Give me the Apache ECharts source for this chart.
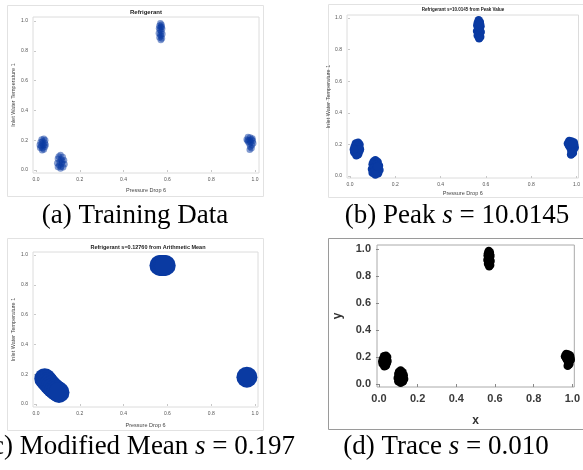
<!DOCTYPE html>
<html><head><meta charset="utf-8">
<script src="https://cdn.jsdelivr.net/npm/echarts@6/dist/echarts.min.js"></script>
<style>html,body{margin:0;padding:0;background:#fff}#c{width:583px;height:470px}</style>
</head><body><div id="c"></div>
<script>
// ---- data ----
const tickValues = [0, 0.2, 0.4, 0.6, 0.8, 1.0];
const cluster1 = [[0.026,0.205],[0.036,0.21],[0.042,0.2],[0.03,0.192],[0.021,0.186],[0.029,0.176],[0.04,0.182],[0.034,0.166],[0.024,0.16],[0.019,0.15],[0.03,0.148],[0.041,0.156],[0.036,0.138],[0.028,0.132],[0.044,0.17],[0.017,0.168]];
const cluster2 = [[0.112,0.1],[0.104,0.09],[0.122,0.088],[0.1,0.075],[0.115,0.07],[0.128,0.065],[0.108,0.055],[0.097,0.045],[0.118,0.045],[0.13,0.038],[0.106,0.032],[0.114,0.022],[0.124,0.018],[0.1,0.02],[0.112,0.01],[0.12,0.058]];
const cluster3 = [[0.568,0.985],[0.573,0.975],[0.564,0.968],[0.57,0.958],[0.576,0.948],[0.566,0.94],[0.572,0.93],[0.561,0.918],[0.568,0.908],[0.577,0.912],[0.571,0.898],[0.564,0.89],[0.575,0.882],[0.57,0.872],[0.562,0.952],[0.574,0.962]];
const cluster4 = [[0.968,0.222],[0.978,0.218],[0.988,0.212],[0.962,0.205],[0.975,0.2],[0.99,0.196],[0.968,0.19],[0.98,0.186],[0.992,0.18],[0.974,0.176],[0.986,0.166],[0.978,0.156],[0.984,0.146],[0.976,0.136],[0.966,0.198],[0.984,0.204]];
// panel (c) blob centres
const blobLow = [[0.04,0.17],[0.048,0.158],[0.055,0.145],[0.062,0.132],[0.07,0.12],[0.078,0.108],[0.087,0.097],[0.096,0.087],[0.105,0.078]];
const blobTop = [[0.566,0.93],[0.572,0.93],[0.578,0.93],[0.584,0.93],[0.59,0.93]];
const blobRight = [[0.963,0.18]];

const titles = ['Refrigerant','Refrigerant s=10.0145 from Peak Value','Refrigerant s=0.12760 from Arithmetic Mean'];
const xName = 'Pressure Drop 6';
const yName = 'Inlet Water Temperature 1';

const allPts = cluster1.concat(cluster2, cluster3, cluster4);
const blobPts = blobLow.concat(blobTop, blobRight);
const BLUE = '#0a3aa2';
const SANS = 'Liberation Sans';
const SERIF = 'Liberation Serif';

function sasX(gi, min, max, gap){
  return {gridIndex:gi, type:'value', min:min, max:max,
    axisLine:{show:false}, splitLine:{show:false},
    axisTick:{show:true, customValues:tickValues, length:2, lineStyle:{color:'#c8c8c8'}},
    axisLabel:{customValues:tickValues, formatter:v=>v.toFixed(1), fontSize:5, color:'#555', fontFamily:SANS, margin:4},
    name:xName, nameLocation:'middle', nameGap:gap, nameTextStyle:{fontSize:5.5, color:'#444', fontFamily:SANS}};
}
function sasY(gi, min, max, gap){
  return {gridIndex:gi, type:'value', min:min, max:max,
    axisLine:{show:false}, splitLine:{show:false},
    axisTick:{show:true, customValues:tickValues, length:2, lineStyle:{color:'#c8c8c8'}},
    axisLabel:{customValues:tickValues, formatter:v=>v.toFixed(1), fontSize:5, color:'#555', fontFamily:SANS, margin:5},
    name:yName, nameLocation:'middle', nameGap:gap, nameTextStyle:{fontSize:5.5, color:'#444', fontFamily:SANS}};
}

const chart = echarts.init(document.getElementById('c'), null, {renderer:'canvas'});
chart.setOption({
  animation:false,
  backgroundColor:'#fff',
  grid:[
    {left:33, top:17, width:226, height:156, show:true, borderColor:'#dcdcdc', borderWidth:1},
    {left:347, top:15, width:232, height:163, show:true, borderColor:'#dcdcdc', borderWidth:1},
    {left:33, top:252, width:225, height:155, show:true, borderColor:'#dcdcdc', borderWidth:1},
    {left:377, top:245, width:201, height:142, show:true, borderColor:'#aaaaaa', borderWidth:1}
  ],
  xAxis:[
    sasX(0, -0.0137, 1.0183, 14),
    sasX(1, -0.0132, 1.0088, 12),
    sasX(2, -0.0137, 1.0137, 15),
    {gridIndex:3, type:'value', min:-0.0102, max:1.0102,
      axisLine:{show:false}, splitLine:{show:false},
      axisTick:{show:true, customValues:tickValues, length:3, lineStyle:{color:'#888'}},
      axisLabel:{customValues:tickValues, formatter:v=>v.toFixed(1), fontSize:11, fontWeight:'bold', color:'#3a3a3a', fontFamily:SANS, margin:6},
      name:'x', nameLocation:'middle', nameGap:28, nameTextStyle:{fontSize:12, fontWeight:'bold', color:'#333', fontFamily:SANS}}
  ],
  yAxis:[
    sasY(0, -0.0201, 1.0268, 17),
    sasY(1, -0.0127, 1.019, 13),
    sasY(2, -0.0201, 1.0201, 17),
    {gridIndex:3, type:'value', min:-0.022, max:1.0296,
      axisLine:{show:false}, splitLine:{show:false},
      axisTick:{show:true, customValues:tickValues, length:3, lineStyle:{color:'#888'}},
      axisLabel:{customValues:tickValues, formatter:v=>v.toFixed(1), fontSize:11, fontWeight:'bold', color:'#3a3a3a', fontFamily:SANS, margin:6},
      name:'y', nameLocation:'middle', nameGap:33, nameTextStyle:{fontSize:12, fontWeight:'bold', color:'#333', fontFamily:SANS}}
  ],
  series:[
    {type:'scatter', xAxisIndex:0, yAxisIndex:0, data:allPts, symbolSize:6.5, itemStyle:{color:BLUE, opacity:0.5}},
    {type:'scatter', xAxisIndex:1, yAxisIndex:1, data:allPts, symbolSize:8.5, itemStyle:{color:BLUE, opacity:1}},
    {type:'scatter', xAxisIndex:2, yAxisIndex:2, data:blobPts, symbolSize:21, itemStyle:{color:BLUE, opacity:1}},
    {type:'scatter', xAxisIndex:3, yAxisIndex:3, data:allPts, symbolSize:8.5, itemStyle:{color:'#000', opacity:1}}
  ],
  graphic:[
    {type:'rect', shape:{x:7.5,y:5.5,width:256,height:191}, style:{fill:null, stroke:'#e2e2e2', lineWidth:1}, silent:true, z:-1},
    {type:'rect', shape:{x:328.5,y:4.5,width:270,height:193}, style:{fill:null, stroke:'#e2e2e2', lineWidth:1}, silent:true, z:-1},
    {type:'rect', shape:{x:7.5,y:238.5,width:256,height:192}, style:{fill:null, stroke:'#e2e2e2', lineWidth:1}, silent:true, z:-1},
    {type:'rect', shape:{x:328.5,y:238.5,width:270,height:191}, style:{fill:null, stroke:'#9a9a9a', lineWidth:1}, silent:true, z:-1},
    {type:'text', x:146, y:12, style:{text:titles[0], align:'center', verticalAlign:'middle', font:'bold 6px "Liberation Sans"', fill:'#222'}},
    {type:'text', x:463, y:10, style:{text:titles[1], align:'center', verticalAlign:'middle', font:'bold 4.5px "Liberation Sans"', fill:'#222'}},
    {type:'text', x:148, y:247, style:{text:titles[2], align:'center', verticalAlign:'middle', font:'bold 5.5px "Liberation Sans"', fill:'#222'}},
    {type:'text', x:135, y:216, style:{text:'(a) Training Data', align:'center', verticalAlign:'middle', font:'27px "Liberation Serif"', fill:'#000'}},
    {type:'text', x:457, y:216, style:{text:'(b) Peak {i|s} = 10.0145', align:'center', verticalAlign:'middle', font:'27px "Liberation Serif"', fill:'#000', rich:{i:{fontStyle:'italic', fontFamily:SERIF, fontSize:27, fill:'#000'}}}},
    {type:'text', x:139, y:447, style:{text:'(c) Modified Mean {i|s} = 0.197', align:'center', verticalAlign:'middle', font:'27px "Liberation Serif"', fill:'#000', rich:{i:{fontStyle:'italic', fontFamily:SERIF, fontSize:27, fill:'#000'}}}},
    {type:'text', x:446, y:447, style:{text:'(d) Trace {i|s} = 0.010', align:'center', verticalAlign:'middle', font:'27px "Liberation Serif"', fill:'#000', rich:{i:{fontStyle:'italic', fontFamily:SERIF, fontSize:27, fill:'#000'}}}}
  ]
});
</script></body></html>
